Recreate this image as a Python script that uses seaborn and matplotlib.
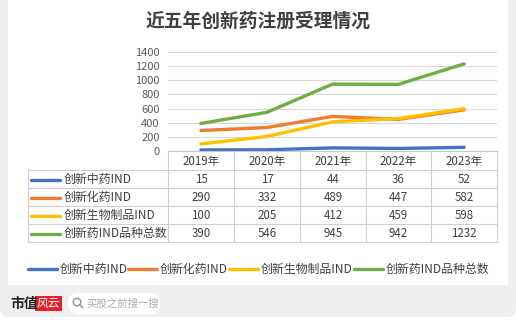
import matplotlib
matplotlib.use('Agg')
import matplotlib.pyplot as plt
import seaborn as sns
import pandas as pd
from matplotlib.patches import FancyBboxPatch, Rectangle, Circle

# ---- data ----
years = ['2019年', '2020年', '2021年', '2022年', '2023年']
series_names = ['创新中药IND', '创新化药IND', '创新生物制品IND', '创新药IND品种总数']
tcm_ind = [15, 17, 44, 36, 52]
chem_ind = [290, 332, 489, 447, 582]
bio_ind = [100, 205, 412, 459, 598]
total_ind = [390, 546, 945, 942, 1232]
yticks = [0, 200, 400, 600, 800, 1000, 1200, 1400]
colors = ['#4472C4', '#ED7D31', '#FFC000', '#70AD47']
title = '近五年创新药注册受理情况'

values = [tcm_ind, chem_ind, bio_ind, total_ind]
rows = []
for name, vals in zip(series_names, values):
    for i, v in enumerate(vals):
        rows.append({'i': i, 'year': years[i], 'value': v, 'series': name})
df = pd.DataFrame(rows)

sns.set_theme(style='white')
plt.rcParams['font.family'] = ['Noto Sans CJK SC', 'DejaVu Sans']

W, H = 516, 325
fig = plt.figure(figsize=(W / 100, H / 100), dpi=100)
fig.patch.set_facecolor('white')

# background overlay in pixel coordinates
bg = fig.add_axes([0, 0, 1, 1], zorder=0)
bg.set_xlim(0, W)
bg.set_ylim(H, 0)
bg.axis('off')
bg.add_patch(FancyBboxPatch((0, -20), W, 337, boxstyle='round,pad=0,rounding_size=8',
                            facecolor='#efefef', edgecolor='none'))
bg.add_patch(Rectangle((8, 0), 500, 285, facecolor='white', edgecolor='none'))

# title
bg.text(258, 21, title, ha='center', va='center', fontsize=13.5, fontweight='bold',
        color='#404040')

# plot axes
L, R, T, B = 168, 497, 52, 151
ax = fig.add_axes([L / W, (H - B) / H, (R - L) / W, (B - T) / H], zorder=1)
ax.set_facecolor('none')
sns.lineplot(data=df, x='i', y='value', hue='series', hue_order=series_names,
             palette=colors, linewidth=2.4, legend=False, ax=ax, sort=False)
ax.set_xlim(-0.5, 4.5)
ax.set_ylim(0, 1400)
ax.set_yticks(yticks)
ax.set_yticklabels([str(t) for t in yticks], fontsize=8, color='#595959')
ax.set_xticks([])
ax.set_xlabel('')
ax.set_ylabel('')
ax.tick_params(axis='y', length=0, pad=6)
for y in yticks[1:]:
    ax.axhline(y, color='#d9d9d9', lw=0.8, zorder=0)
for s in ['left', 'right', 'top']:
    ax.spines[s].set_visible(False)
ax.spines['bottom'].set_color('#c8c8c8')
ax.spines['bottom'].set_linewidth(0.8)

# data table
row_y = [151, 170, 188, 206, 224, 242]
col_x = [168, 234, 300, 366, 431, 497]
tleft = 28
gc = '#d0d0d0'
for k, y in enumerate(row_y):
    x0 = L if k == 0 else tleft
    if k > 0:
        bg.plot([x0, R], [y, y], color=gc, lw=0.8)
for x in col_x:
    bg.plot([x, x], [151, 242], color=gc, lw=0.8)
bg.plot([tleft, tleft], [170, 242], color=gc, lw=0.8)

tc = '#404040'
for j, yr in enumerate(years):
    cx = (col_x[j] + col_x[j + 1]) / 2
    bg.text(cx, (row_y[0] + row_y[1]) / 2 + 0.5, yr, ha='center', va='center',
            fontsize=8.3, color=tc)
for r, (name, vals) in enumerate(zip(series_names, values)):
    cy = (row_y[r + 1] + row_y[r + 2]) / 2 + 0.5
    bg.plot([31, 60], [cy, cy], color=colors[r], lw=2.4, solid_capstyle='round')
    bg.text(64, cy, name, ha='left', va='center', fontsize=8.6, color=tc)
    for j, v in enumerate(vals):
        cx = (col_x[j] + col_x[j + 1]) / 2
        bg.text(cx, cy, str(v), ha='center', va='center', fontsize=8.3, color=tc)

# bottom legend
leg_y = 269
key_x = [28, 128, 229, 354]
for k, name in enumerate(series_names):
    x0 = key_x[k]
    bg.plot([x0, x0 + 29], [leg_y, leg_y], color=colors[k], lw=2.4, solid_capstyle='round')
    bg.text(x0 + 32, leg_y, name, ha='left', va='center', fontsize=8.6, color=tc)

# footer
bg.text(10, 304, '市值', ha='left', va='center', fontsize=10, fontweight='bold', color='#222222')
bg.add_patch(Rectangle((35, 296), 27, 15, facecolor='#e62129', edgecolor='none'))
bg.text(48.5, 303.5, '风云', ha='center', va='center', fontsize=8.5, color='white',
        style='italic')
bg.add_patch(FancyBboxPatch((68, 293), 92, 21, boxstyle='round,pad=0,rounding_size=10',
                            facecolor='white', edgecolor='none'))
bg.add_patch(Circle((77, 302), 3.8, facecolor='none', edgecolor='#9a9a9a', lw=1.1))
bg.plot([79.8, 82.5], [304.8, 307.5], color='#9a9a9a', lw=1.2)
bg.text(86, 303.5, '买股之前搜一搜', ha='left', va='center', fontsize=7.5, color='#aaaaaa')

fig.savefig('out.png', dpi=100)
